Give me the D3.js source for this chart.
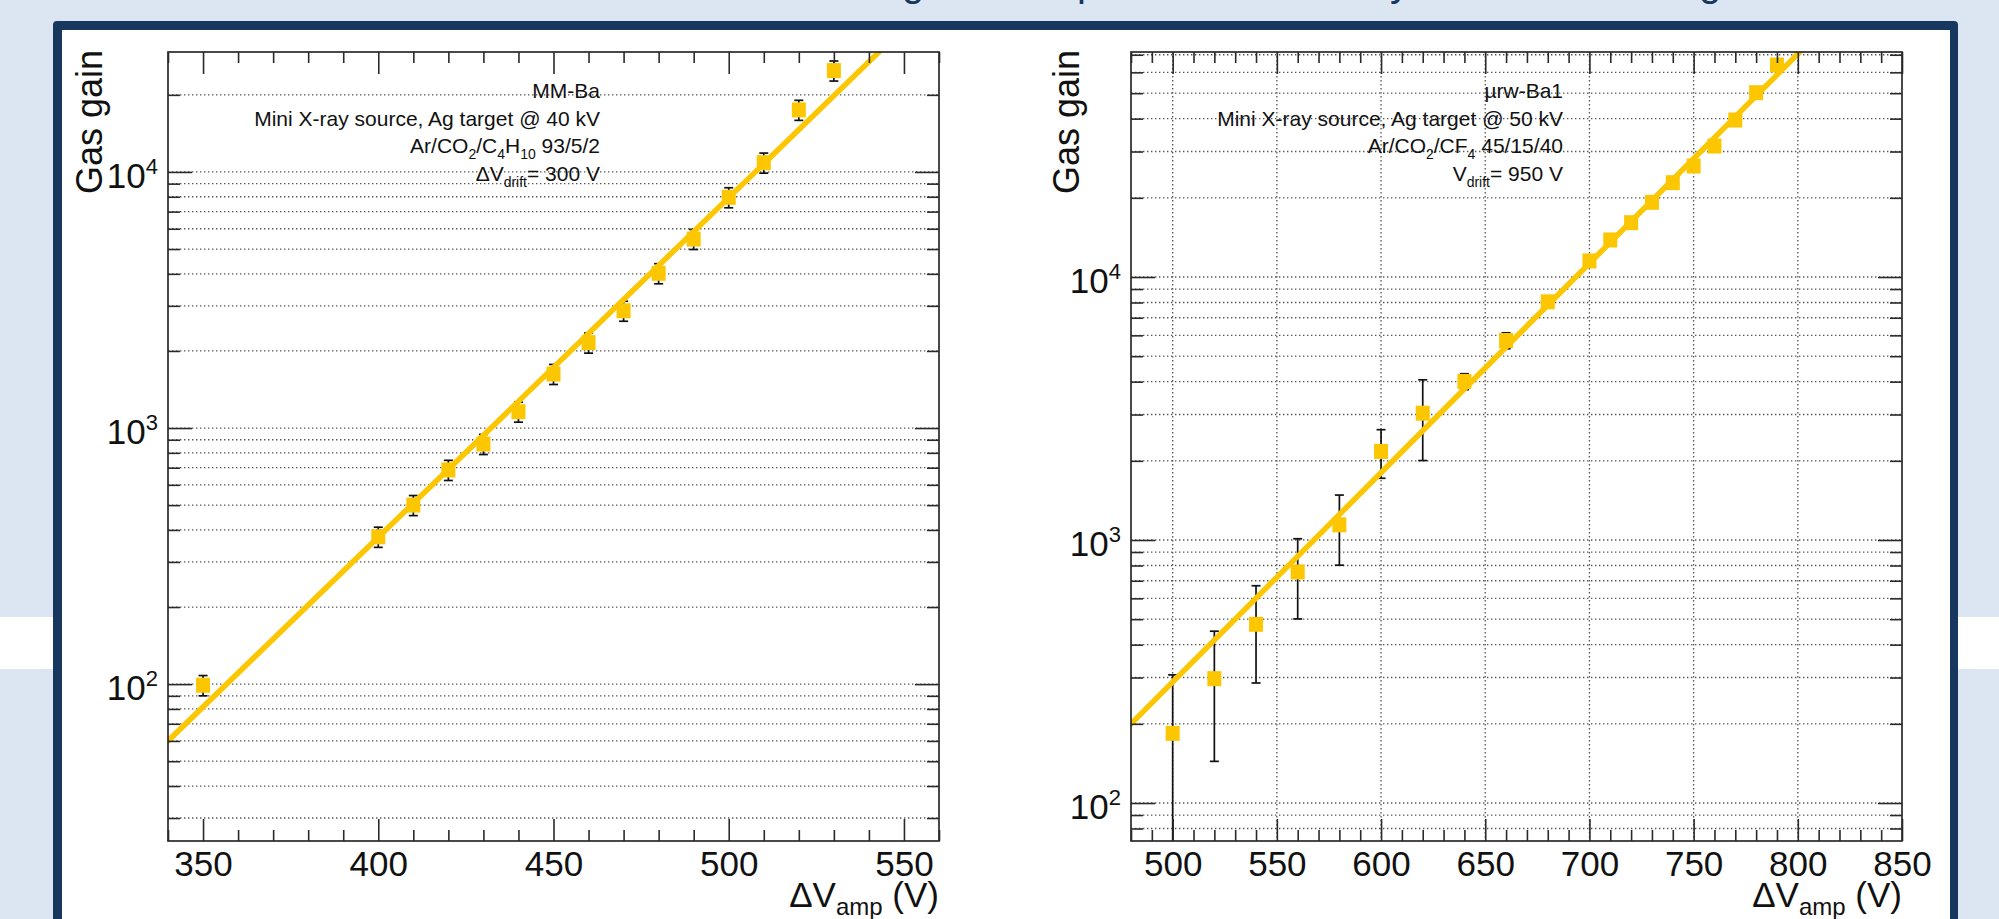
<!DOCTYPE html>
<html>
<head>
<meta charset="utf-8">
<script src="https://cdn.jsdelivr.net/npm/d3@7"></script>
<style>
  html, body { margin: 0; padding: 0; background: #dce6f2; overflow: hidden; }
  text { font-family: "Liberation Sans", Arial, Helvetica, sans-serif; }
</style>
</head>
<body>
<svg id="chart" width="1999" height="919"></svg>
<script>
// ---------------- DATA ----------------
// Left panel: MM-Ba
const mmVamp = [350, 400, 410, 420, 430, 440, 450, 460, 470, 480, 490, 500, 510, 520, 530];
const mmGain = [99, 376, 500, 686, 866, 1158, 1625, 2155, 2870, 4020, 5470, 7960, 10870, 17470, 24880];
const mmErr  = [9, 34, 45, 62, 78, 104, 146, 194, 258, 362, 492, 716, 978, 1572, 2240];
const mmFitVamp = [340, 543];
const mmFitGain = [60, 29500];
const mmXTicks = [350, 400, 450, 500, 550];
const mmXMinor = [340, 360, 370, 380, 390, 410, 420, 430, 440, 460, 470, 480, 490, 510, 520, 530, 540, 560];
const mmXDomain = [340, 560];
const mmYDomain = [24.4, 29400];
const mmNotes = [
  [["MM-Ba"]],
  [["Mini X-ray source, Ag target @ 40 kV"]],
  [["Ar/CO"], ["2", "sub"], ["/C"], ["4", "sub"], ["H"], ["10", "sub"], [" 93/5/2"]],
  [["\u0394V"], ["drift", "sub"], ["= 300 V"]]
];

// Right panel: µrw-Ba1
const rwVamp = [500, 520, 540, 560, 580, 600, 620, 640, 660, 680, 700, 710, 720, 730, 740, 750, 760, 770, 780, 790];
const rwGain = [184, 297, 478, 756, 1142, 2172, 3035, 4008, 5735, 8045, 11510, 13830, 16090, 19230, 22840, 26420, 31480, 39530, 50220, 63970];
const rwErr  = [123, 153, 192, 255, 340, 455, 1030, 280, 400, 250, 350, 400, 450, 550, 650, 750, 900, 1100, 1400, 1800];
const rwFitVamp = [480, 801];
const rwFitGain = [200, 71800];
const rwXTicks = [500, 550, 600, 650, 700, 750, 800, 850];
const rwXMinor = [480, 490, 510, 520, 530, 540, 560, 570, 580, 590, 610, 620, 630, 640, 660, 670, 680, 690,
                  710, 720, 730, 740, 760, 770, 780, 790, 810, 820, 830, 840];
const rwXDomain = [480, 850];
const rwYDomain = [71.7, 71700];
const rwNotes = [
  [["\u00b5rw-Ba1"]],
  [["Mini X-ray source, Ag target @ 50 kV"]],
  [["Ar/CO"], ["2", "sub"], ["/CF"], ["4", "sub"], [" 45/15/40"]],
  [["V"], ["drift", "sub"], ["= 950 V"]]
];

const yTitle = "Gas gain";
const xTitle = [["\u0394V"], ["amp", "sub"], [" (V)"]];
const titleGlyphs = ["g", "p", "y", "g"];

// ---------------- STYLE / LAYOUT ----------------
const GOLD = "#fcc600";
const NAVY = "#17375e";
const INK = "#2a2a2a";
const FONT = "'Liberation Sans', Arial, Helvetica, sans-serif";

const svg = d3.select("#chart");

// background
svg.append("rect").attr("width", 1999).attr("height", 919).attr("fill", "#dce6f2");
svg.append("rect").attr("x", 0).attr("y", 617).attr("width", 53).attr("height", 52).attr("fill", "#ffffff");
svg.append("rect").attr("x", 1958).attr("y", 617).attr("width", 41).attr("height", 52).attr("fill", "#ffffff");

// cut-off slide title (only descenders visible)
const glyphX = [913, 1088, 1400, 1710];
svg.append("g").selectAll("text").data(titleGlyphs).join("text")
  .attr("x", (d, i) => glyphX[i]).attr("y", -4)
  .attr("text-anchor", "middle")
  .attr("font-size", 40).attr("fill", NAVY)
  .text(d => d);

// navy panel
svg.append("rect").attr("x", 53).attr("y", 21).attr("width", 1905).attr("height", 960)
  .attr("rx", 4).attr("fill", NAVY);
svg.append("rect").attr("x", 62).attr("y", 30).attr("width", 1888).attr("height", 960)
  .attr("fill", "#ffffff");

function addRich(sel, parts, baseSize, subSize, subDy) {
  let shifted = 0;
  parts.forEach(([t, kind]) => {
    const ts = sel.append("tspan").text(t);
    if (kind === "sub") {
      ts.attr("font-size", subSize).attr("dy", subDy - shifted);
      shifted = subDy;
    } else {
      ts.attr("font-size", baseSize);
      if (shifted !== 0) { ts.attr("dy", -shifted); shifted = 0; }
    }
  });
}

function drawPanel(p) {
  const x = d3.scaleLinear().domain(p.xDomain).range([p.left, p.right]);
  const y = d3.scaleLog().domain(p.yDomain).range([p.bottom, p.top]);
  const W = p.right - p.left, H = p.bottom - p.top;

  const clipId = "clip-" + p.id;
  svg.append("clipPath").attr("id", clipId)
    .append("rect").attr("x", p.left).attr("y", p.top).attr("width", W).attr("height", H);

  const yTicksAll = y.ticks().filter(v => v >= p.yDomain[0] && v <= p.yDomain[1]);
  const isDecade = v => Math.abs(Math.log10(v) - Math.round(Math.log10(v))) < 1e-9;
  const yMajor = yTicksAll.filter(isDecade);
  const yMinor = yTicksAll.filter(v => !isDecade(v));

  // grid
  const grid = svg.append("g").attr("clip-path", `url(#${clipId})`)
    .attr("stroke", "#555").attr("stroke-width", 1.3).attr("stroke-dasharray", "1.4,2.6");
  grid.selectAll("line.h").data(yTicksAll).join("line").attr("class", "h")
    .attr("x1", p.left).attr("x2", p.right)
    .attr("y1", d => y(d)).attr("y2", d => y(d));
  if (p.vGrid) {
    grid.selectAll("line.v").data(p.xTicks.filter(v => v > p.xDomain[0] && v < p.xDomain[1])).join("line").attr("class", "v")
      .attr("y1", p.top).attr("y2", p.bottom)
      .attr("x1", d => x(d)).attr("x2", d => x(d));
  }

  // annotations
  const notes = svg.append("g").attr("fill", "#111").attr("text-anchor", "end");
  p.notes.forEach((line, i) => {
    const t = notes.append("text").attr("x", p.noteX).attr("y", p.noteY + i * p.noteStep)
      .attr("font-size", 21);
    addRich(t, line, 21, 14, 6);
  });

  // data
  const data = p.vamp.map((v, i) => ({ v, g: p.gain[i], e: p.err[i] }));
  const dg = svg.append("g").attr("clip-path", `url(#${clipId})`);
  const eb = dg.append("g").attr("stroke", "#111").attr("stroke-width", 1.7);
  eb.selectAll("line.bar").data(data).join("line").attr("class", "bar")
    .attr("x1", d => x(d.v)).attr("x2", d => x(d.v))
    .attr("y1", d => y(Math.max(d.g - d.e, p.yDomain[0] * 0.5))).attr("y2", d => y(d.g + d.e));
  eb.selectAll("line.capt").data(data).join("line").attr("class", "capt")
    .attr("x1", d => x(d.v) - 4.5).attr("x2", d => x(d.v) + 4.5)
    .attr("y1", d => y(d.g + d.e)).attr("y2", d => y(d.g + d.e));
  eb.selectAll("line.capb").data(data.filter(d => d.g - d.e > p.yDomain[0])).join("line").attr("class", "capb")
    .attr("x1", d => x(d.v) - 4.5).attr("x2", d => x(d.v) + 4.5)
    .attr("y1", d => y(d.g - d.e)).attr("y2", d => y(d.g - d.e));
  dg.selectAll("rect.mk").data(data).join("rect").attr("class", "mk")
    .attr("x", d => x(d.v) - 7).attr("y", d => y(d.g) - 7.5)
    .attr("width", 14).attr("height", 15).attr("fill", GOLD);

  const fit = p.fitV.map((v, i) => [v, p.fitG[i]]);
  dg.append("path").datum(fit)
    .attr("d", d3.line().x(d => x(d[0])).y(d => y(d[1])))
    .attr("fill", "none").attr("stroke", GOLD).attr("stroke-width", 5.5).attr("stroke-linecap", "round");

  // axes
  const styleAxis = g => {
    g.select(".domain").remove();
    g.attr("font-family", FONT).attr("color", INK);
    g.selectAll(".tick line").attr("stroke-width", 1.6);
  };
  svg.append("g").attr("transform", `translate(0,${p.bottom})`)
    .call(d3.axisBottom(x).tickValues(p.xTicks).tickSize(-22).tickPadding(10).tickFormat(d3.format("d")))
    .call(styleAxis)
    .call(g => g.selectAll("text").attr("font-size", 35).attr("fill", "#111"));
  svg.append("g").attr("transform", `translate(0,${p.bottom})`)
    .call(d3.axisBottom(x).tickValues(p.xMinor).tickSize(-11).tickFormat(""))
    .call(styleAxis);
  svg.append("g").attr("transform", `translate(0,${p.top})`)
    .call(d3.axisTop(x).tickValues(p.xTicks).tickSize(-22).tickFormat(""))
    .call(styleAxis);
  svg.append("g").attr("transform", `translate(0,${p.top})`)
    .call(d3.axisTop(x).tickValues(p.xMinor).tickSize(-11).tickFormat(""))
    .call(styleAxis);

  svg.append("g").attr("transform", `translate(${p.left},0)`)
    .call(d3.axisLeft(y).tickValues(yMajor).tickSize(-24).tickPadding(10).tickFormat(() => "10"))
    .call(styleAxis)
    .call(g => g.selectAll("text").attr("font-size", 35).attr("fill", "#111").attr("dy", "0.45em")
      .each(function (d) {
        d3.select(this).append("tspan").attr("font-size", 22).attr("dy", -14)
          .text(Math.round(Math.log10(d)));
      }));
  svg.append("g").attr("transform", `translate(${p.left},0)`)
    .call(d3.axisLeft(y).tickValues(yMinor).tickSize(-12).tickFormat(""))
    .call(styleAxis);
  svg.append("g").attr("transform", `translate(${p.right},0)`)
    .call(d3.axisRight(y).tickValues(yMajor).tickSize(-24).tickFormat(""))
    .call(styleAxis);
  svg.append("g").attr("transform", `translate(${p.right},0)`)
    .call(d3.axisRight(y).tickValues(yMinor).tickSize(-12).tickFormat(""))
    .call(styleAxis);

  // frame
  svg.append("rect").attr("x", p.left).attr("y", p.top).attr("width", W).attr("height", H)
    .attr("fill", "none").attr("stroke", INK).attr("stroke-width", 1.7);

  // axis titles
  const xt = svg.append("text").attr("x", p.right).attr("y", 907)
    .attr("text-anchor", "end").attr("fill", "#111").attr("font-size", 35);
  addRich(xt, xTitle, 35, 24, 8);

  svg.append("text")
    .attr("transform", `translate(${p.yTitleX},${p.top - 2}) rotate(-90)`)
    .attr("text-anchor", "end").attr("fill", "#111").attr("font-size", 36)
    .text(yTitle);
}

drawPanel({
  id: "mm", left: 168, right: 939, top: 52, bottom: 841,
  xDomain: mmXDomain, yDomain: mmYDomain, xTicks: mmXTicks, xMinor: mmXMinor,
  vamp: mmVamp, gain: mmGain, err: mmErr, fitV: mmFitVamp, fitG: mmFitGain,
  notes: mmNotes, noteX: 600, noteY: 98, noteStep: 27.5, vGrid: false, yTitleX: 102
});
drawPanel({
  id: "rw", left: 1131, right: 1902, top: 52, bottom: 841,
  xDomain: rwXDomain, yDomain: rwYDomain, xTicks: rwXTicks, xMinor: rwXMinor,
  vamp: rwVamp, gain: rwGain, err: rwErr, fitV: rwFitVamp, fitG: rwFitGain,
  notes: rwNotes, noteX: 1563, noteY: 98, noteStep: 27.5, vGrid: true, yTitleX: 1079
});
</script>
</body>
</html>
